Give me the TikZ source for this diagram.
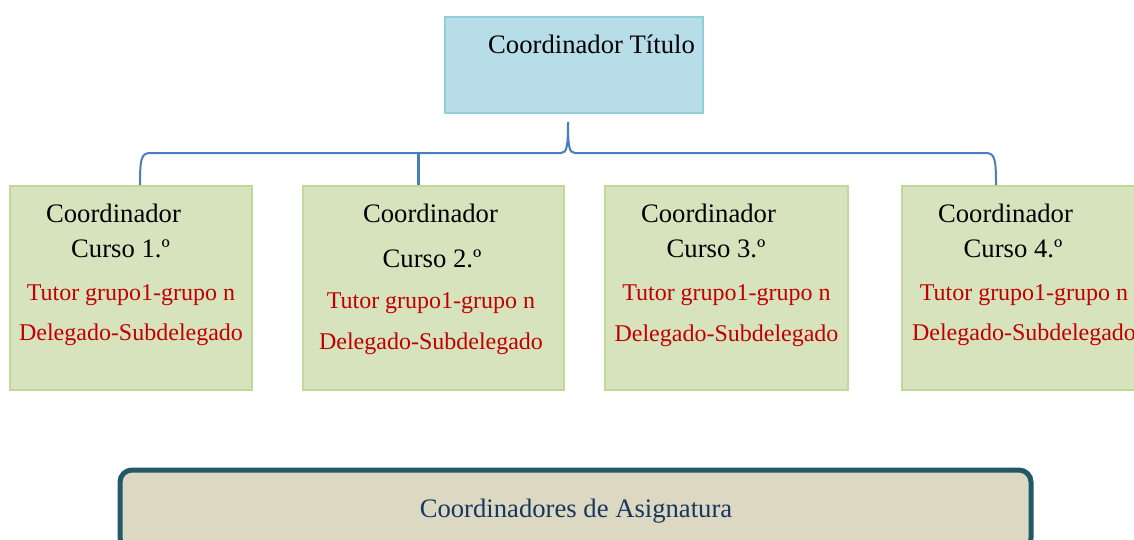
\documentclass[tikz,border=0pt]{standalone}
\usepackage{fontspec}
\setmainfont{Liberation Serif}
\usetikzlibrary{calc}

\definecolor{azulcaja}{HTML}{B7DDE8}
\definecolor{azulborde}{HTML}{92CDDC}
\definecolor{verdecaja}{HTML}{D7E3BC}
\definecolor{verdeborde}{HTML}{C3D69B}
\definecolor{llave}{HTML}{4A7EBB}
\definecolor{rojo}{HTML}{C00000}
\definecolor{arena}{HTML}{DDD8C2}
\definecolor{petroleo}{HTML}{215968}
\definecolor{azultexto}{HTML}{17375E}

\tikzset{
  cajatitulo/.style={draw=azulborde,fill=azulcaja,line width=1.5pt,rectangle,inner sep=0pt},
  cajacurso/.style={draw=verdeborde,fill=verdecaja,line width=1.5pt,rectangle,inner sep=0pt,
    minimum height=153pt},
  cajaasig/.style={draw=petroleo,fill=arena,line width=3.75pt,rounded corners=9pt,inner sep=0pt},
  negro/.style={anchor=base,inner sep=0pt,font=\fontsize{20}{24}\selectfont},
  rojas/.style={anchor=base,inner sep=0pt,text=rojo,font=\fontsize{18}{22}\selectfont},
  conector/.style={draw=llave,line width=1.5pt}
}

\begin{document}
\begin{tikzpicture}[x=0.75pt,y=-0.75pt]
	\useasboundingbox (0,0) rectangle (1134,539);

	% cajas
	\node[cajatitulo,minimum width=193.5pt,minimum height=72pt] (titulo) at (574,65) {};
	\node[cajacurso,minimum width=181.5pt] (c1) at (131,288) {};
	\node[cajacurso,minimum width=195.75pt] (c2) at (433,288) {};
	\node[cajacurso,minimum width=182.25pt] (c3) at (726.5,288) {};
	\node[cajacurso,minimum width=181.5pt] (c4) at (1023,288) {};
	\node[cajaasig,minimum width=683.25pt,minimum height=60pt] (asig) at (575.5,510) {};

	% llave
	\coordinate (pico) at (568,122);
	\coordinate (izq) at (140,153);
	\coordinate (der) at (996,153);
	\coordinate (b2) at (418,153);
	\draw[conector] (pico) .. controls (568,146) and (567,153) .. (561,153) -- (150,153)
		.. controls (141,153) and (140,160) .. (izq |- c1.north);
	\draw[conector] (pico) .. controls (568,146) and (569,153) .. (575,153) -- (986,153)
		.. controls (995,153) and (996,160) .. (der |- c4.north);
	\draw[conector,line width=2.25pt] (b2) -- (b2 |- c2.north);

	% textos
	\node[negro] (t0) at (591.5,53) {Coordinador Título};

	\node[negro] (t1a) at (113.5,222) {Coordinador};
	\node[negro] (t1b) at (120.5,257) {Curso 1.º};
	\node[rojas] (t1c) at (131,300) {Tutor grupo1-grupo n};
	\node[rojas] (t1d) at (131,340) {Delegado-Subdelegado};

	\node[negro] (t2a) at (430.5,222) {Coordinador};
	\node[negro] (t2b) at (432,267) {Curso 2.º};
	\node[rojas] (t2c) at (431,308) {Tutor grupo1-grupo n};
	\node[rojas] (t2d) at (431,349) {Delegado-Subdelegado};

	\node[negro] (t3a) at (708.5,222) {Coordinador};
	\node[negro] (t3b) at (716,257) {Curso 3.º};
	\node[rojas] (t3c) at (726.5,300) {Tutor grupo1-grupo n};
	\node[rojas] (t3d) at (726.5,341) {Delegado-Subdelegado};

	\node[negro] (t4a) at (1005.5,222) {Coordinador};
	\node[negro] (t4b) at (1013,257) {Curso 4.º};
	\node[rojas] (t4c) at (1024,300) {Tutor grupo1-grupo n};
	\node[rojas] (t4d) at (1024,340) {Delegado-Subdelegado};

	\node[negro,text=azultexto] (t5) at (576,517) {Coordinadores de Asignatura};
\end{tikzpicture}
\end{document}
